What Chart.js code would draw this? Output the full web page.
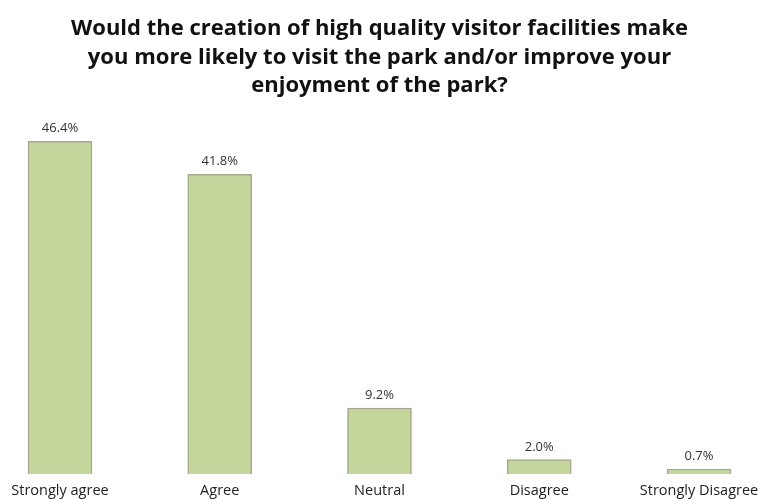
<!DOCTYPE html>
<html>
<head>
<meta charset="utf-8">
<script src="https://cdn.jsdelivr.net/npm/chart.js@4.4.1/dist/chart.umd.min.js"></script>
<style>
  html, body { margin: 0; padding: 0; background: #ffffff; }
  #wrap { width: 758px; height: 499px; }
</style>
</head>
<body>
<div id="wrap"><canvas id="chart" width="758" height="499"></canvas></div>
<script>
const categories = ['Strongly agree', 'Agree', 'Neutral', 'Disagree', 'Strongly Disagree'];
const percentages = [46.4, 41.8, 9.2, 2.0, 0.7];
const titleLines = [
  'Would the creation of high quality visitor facilities make',
  'you more likely to visit the park and/or improve your',
  'enjoyment of the park?'
];

const FONT = '"Open Sans", "Noto Sans", sans-serif';

// Percent labels above each bar
const valueLabels = {
  id: 'valueLabels',
  afterDatasetsDraw(chart) {
    const ctx = chart.ctx;
    const meta = chart.getDatasetMeta(0);
    ctx.save();
    ctx.font = '13px ' + FONT;
    ctx.fillStyle = '#333333';
    ctx.textAlign = 'center';
    ctx.textBaseline = 'bottom';
    meta.data.forEach((bar, i) => {
      ctx.fillText(percentages[i].toFixed(1) + '%', bar.x, bar.y - 6);
    });
    ctx.restore();
  }
};

new Chart(document.getElementById('chart'), {
  type: 'bar',
  data: {
    labels: categories,
    datasets: [{
      data: percentages,
      backgroundColor: '#c3d69b',
      borderColor: '#a8a68e',
      borderWidth: 1.5,
      borderSkipped: 'bottom',
      barThickness: 64,
      clip: false
    }]
  },
  options: {
    responsive: false,
    animation: false,
    layout: { padding: { left: 60, right: 59, top: 0, bottom: 0 } },
    plugins: {
      legend: { display: false },
      tooltip: { enabled: false },
      title: {
        display: true,
        text: titleLines,
        color: '#111111',
        font: { family: FONT, size: 22, weight: 'bold', lineHeight: 1.28 },
        padding: { top: 15, bottom: 16 }
      }
    },
    scales: {
      x: {
        offset: false,
        grid: { display: false, drawTicks: false },
        border: { display: false },
        ticks: {
          autoSkip: false,
          maxRotation: 0,
          padding: 8,
          color: '#222222',
          font: { family: FONT, size: 14.5 }
        },
        // keep the category strip a fixed height and let the end labels overhang
        afterFit(scale) {
          scale.height = 25;
          scale.paddingLeft = 0;
          scale.paddingRight = 0;
        }
      },
      y: {
        display: false,
        min: 0,
        max: 50
      }
    }
  },
  plugins: [valueLabels]
});
</script>
</body>
</html>
